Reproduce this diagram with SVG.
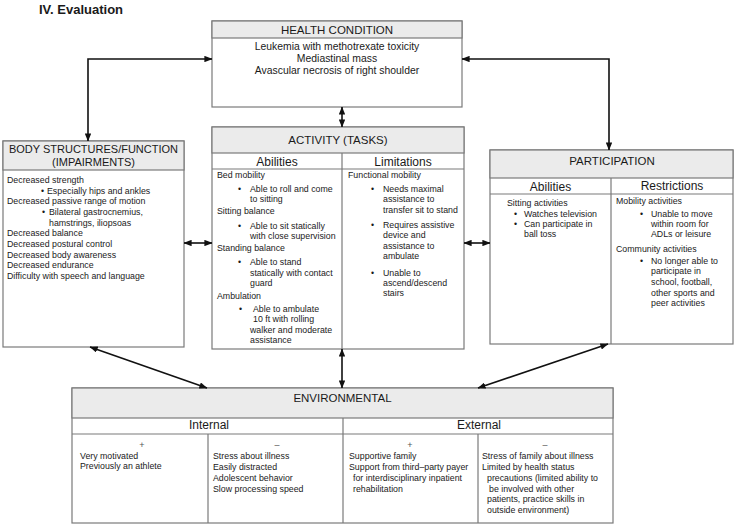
<svg xmlns="http://www.w3.org/2000/svg" width="736" height="525" viewBox="0 0 736 525">
<defs>
<marker id="ah" viewBox="0 0 10 8" refX="9.5" refY="4" markerWidth="8" markerHeight="6.4" markerUnits="userSpaceOnUse" orient="auto-start-reverse">
<path d="M0,0 L10,4 L0,8 z" fill="#111"/>
</marker>
<style>
.box{fill:#fff;stroke:#7a7a7a;stroke-width:1.2}
.hd{fill:#ebebeb;stroke:#7a7a7a;stroke-width:1.2}
.ln{stroke:#7a7a7a;stroke-width:1.2;fill:none}
text{font-family:"Liberation Sans",Arial,sans-serif;fill:#1a1a1a}
.h{font-size:11.5px;text-anchor:middle}
.sh{font-size:12px;text-anchor:middle}
.c{font-size:8.8px}
.hc{font-size:10.4px;text-anchor:middle}
.m{font-size:9px;text-anchor:middle;fill:#555}
.t{font-size:13px;font-weight:bold}
.ar{stroke:#111;stroke-width:1.6;fill:none;marker-start:url(#ah);marker-end:url(#ah)}
</style>
</defs>
<rect width="736" height="525" fill="#fff"/>
<text class="t" x="39" y="14">IV. Evaluation</text>

<g id="health">
<rect class="box" x="212" y="21" width="250" height="86"/>
<rect class="hd" x="212" y="21" width="250" height="17"/>
<text class="h" x="337" y="34">HEALTH CONDITION</text>
<text class="hc" x="337" y="50">Leukemia with methotrexate toxicity</text>
<text class="hc" x="337" y="62">Mediastinal mass</text>
<text class="hc" x="337" y="74">Avascular necrosis of right shoulder</text>
</g>

<g id="body">
<rect class="box" x="3" y="141" width="181" height="206"/>
<rect class="hd" x="3" y="141" width="181" height="29"/>
<text class="h" x="93.5" y="153" style="font-size:11px">BODY STRUCTURES/FUNCTION</text>
<text class="h" x="93.5" y="166" style="font-size:11px">(IMPAIRMENTS)</text>
<text class="c" x="7" y="183">Decreased strength</text>
<text class="c" x="41" y="193.5">•</text>
<text class="c" x="47" y="193.5">Especially hips and ankles</text>
<text class="c" x="7" y="204">Decreased passive range of motion</text>
<text class="c" x="42" y="215">•</text>
<text class="c" x="49" y="215">Bilateral gastrocnemius,</text>
<text class="c" x="49" y="225.5">hamstrings, iliopsoas</text>
<text class="c" x="7" y="236">Decreased balance</text>
<text class="c" x="7" y="247">Decreased postural control</text>
<text class="c" x="7" y="257.5">Decreased body awareness</text>
<text class="c" x="7" y="268">Decreased endurance</text>
<text class="c" x="7" y="279">Difficulty with speech and language</text>
</g>

<g id="activity">
<rect class="box" x="212" y="127" width="252" height="222"/>
<rect class="hd" x="212" y="127" width="252" height="26"/>
<line class="ln" x1="212" y1="169" x2="464" y2="169"/>
<line class="ln" x1="342" y1="153" x2="342" y2="349"/>
<text class="h" x="338" y="144">ACTIVITY (TASKS)</text>
<text class="sh" x="277" y="166">Abilities</text>
<text class="sh" x="403" y="166">Limitations</text>
<text class="c" x="217" y="178">Bed mobility</text>
<text class="c" x="238" y="192">•</text>
<text class="c" x="250" y="192">Able to roll and come</text>
<text class="c" x="250" y="202">to sitting</text>
<text class="c" x="217" y="214">Sitting balance</text>
<text class="c" x="238" y="229">•</text>
<text class="c" x="250" y="229">Able to sit statically</text>
<text class="c" x="250" y="239">with close supervision</text>
<text class="c" x="217" y="251">Standing balance</text>
<text class="c" x="238" y="265">•</text>
<text class="c" x="250" y="265">Able to stand</text>
<text class="c" x="250" y="276">statically with contact</text>
<text class="c" x="250" y="286">guard</text>
<text class="c" x="217" y="299">Ambulation</text>
<text class="c" x="239" y="312">•</text>
<text class="c" x="253" y="312">Able to ambulate</text>
<text class="c" x="253" y="322">10 ft with rolling</text>
<text class="c" x="250" y="333">walker and moderate</text>
<text class="c" x="250" y="343">assistance</text>
<text class="c" x="348" y="178">Functional mobility</text>
<text class="c" x="371" y="192">•</text>
<text class="c" x="383" y="192">Needs maximal</text>
<text class="c" x="383" y="202">assistance to</text>
<text class="c" x="383" y="213">transfer sit to stand</text>
<text class="c" x="371" y="228">•</text>
<text class="c" x="383" y="228">Requires assistive</text>
<text class="c" x="383" y="238">device and</text>
<text class="c" x="383" y="249">assistance to</text>
<text class="c" x="383" y="259">ambulate</text>
<text class="c" x="371" y="276">•</text>
<text class="c" x="383" y="276">Unable to</text>
<text class="c" x="383" y="286">ascend/descend</text>
<text class="c" x="383" y="296">stairs</text>
</g>

<g id="participation">
<rect class="box" x="490" y="150" width="243" height="194"/>
<rect class="hd" x="490" y="150" width="243" height="28"/>
<line class="ln" x1="490" y1="194" x2="733" y2="194"/>
<line class="ln" x1="611" y1="178" x2="611" y2="344"/>
<text class="h" x="612" y="165">PARTICIPATION</text>
<text class="sh" x="550.5" y="191">Abilities</text>
<text class="sh" x="672" y="190">Restrictions</text>
<text class="c" x="507" y="206">Sitting activities</text>
<text class="c" x="514" y="217">•</text>
<text class="c" x="524" y="217">Watches television</text>
<text class="c" x="514" y="227">•</text>
<text class="c" x="524" y="227">Can participate in</text>
<text class="c" x="524" y="237">ball toss</text>
<text class="c" x="616" y="204">Mobility activities</text>
<text class="c" x="640" y="217">•</text>
<text class="c" x="651" y="217">Unable to move</text>
<text class="c" x="651" y="227">within room for</text>
<text class="c" x="651" y="237">ADLs or leisure</text>
<text class="c" x="616" y="252">Community activities</text>
<text class="c" x="640" y="264">•</text>
<text class="c" x="651" y="264">No longer able to</text>
<text class="c" x="651" y="274">participate in</text>
<text class="c" x="651" y="285">school, football,</text>
<text class="c" x="651" y="296">other sports and</text>
<text class="c" x="651" y="306">peer activities</text>
</g>

<g id="environmental">
<rect class="box" x="72" y="388" width="541" height="135"/>
<rect class="hd" x="72" y="388" width="541" height="30"/>
<line class="ln" x1="72" y1="434" x2="613" y2="434"/>
<line class="ln" x1="343" y1="418" x2="343" y2="523"/>
<line class="ln" x1="208" y1="434" x2="208" y2="523"/>
<line class="ln" x1="478" y1="434" x2="478" y2="523"/>
<text class="h" x="342.5" y="402">ENVIRONMENTAL</text>
<text class="sh" x="209" y="429">Internal</text>
<text class="sh" x="479" y="429">External</text>
<text class="m" x="142" y="448">+</text>
<text class="m" x="277" y="448">–</text>
<text class="m" x="410" y="448">+</text>
<text class="m" x="545" y="448">–</text>
<text class="c" x="80" y="459">Very motivated</text>
<text class="c" x="80" y="469">Previously an athlete</text>
<text class="c" x="213" y="459">Stress about illness</text>
<text class="c" x="213" y="470">Easily distracted</text>
<text class="c" x="213" y="481">Adolescent behavior</text>
<text class="c" x="213" y="492">Slow processing speed</text>
<text class="c" x="349" y="459">Supportive family</text>
<text class="c" x="349" y="470">Support from third–party payer</text>
<text class="c" x="353" y="481">for interdisciplinary inpatient</text>
<text class="c" x="353" y="492">rehabilitation</text>
<text class="c" x="482" y="459">Stress of family about illness</text>
<text class="c" x="482" y="470">Limited by health status</text>
<text class="c" x="487" y="481">precautions (limited ability to</text>
<text class="c" x="489" y="492">be involved with other</text>
<text class="c" x="487" y="502">patients, practice skills in</text>
<text class="c" x="487" y="513">outside environment)</text>
</g>

<g id="connectors">
<polyline class="ar" points="212,59 88,59 88,141"/>
<polyline class="ar" points="462,59 609,59 609,150"/>
<line class="ar" x1="342" y1="107" x2="342" y2="127"/>
<line class="ar" x1="184" y1="243" x2="212" y2="243"/>
<line class="ar" x1="464" y1="243" x2="490" y2="243"/>
<line class="ar" x1="90" y1="347" x2="207" y2="388"/>
<line class="ar" x1="342" y1="349" x2="342" y2="388"/>
<line class="ar" x1="608" y1="344" x2="478" y2="388"/>
</g>
</svg>
